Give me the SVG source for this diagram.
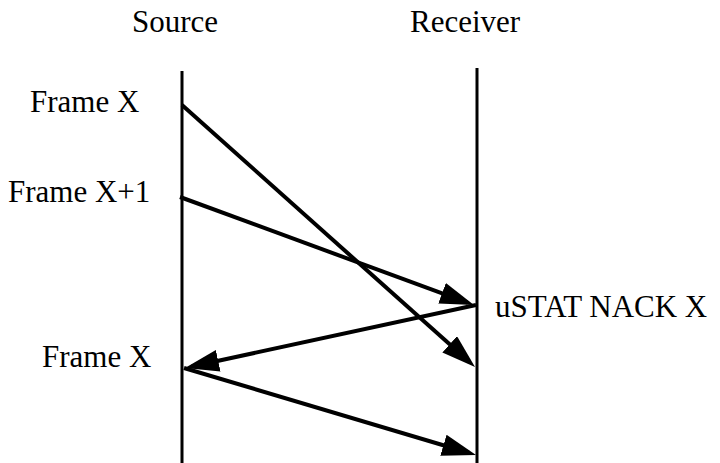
<svg xmlns="http://www.w3.org/2000/svg" width="720" height="463" viewBox="0 0 720 463">
<defs>
<style>
.life{stroke:#000;stroke-width:3}
.msg{stroke:#000;stroke-width:4;fill:none;marker-end:url(#ah)}
</style>
<marker id="ah" markerUnits="userSpaceOnUse" markerWidth="34" markerHeight="22" viewBox="0 0 34 22" refX="27" refY="11" orient="auto">
<path d="M0,0 L34,11 L0,22 z" fill="#000"/>
</marker>
</defs>
<g font-family="Liberation Serif, Times New Roman, DejaVu Serif, serif" font-size="31" fill="#000">
<g id="source">
<text x="132" y="32">Source</text>
<line class="life" x1="182" y1="71" x2="182" y2="463"/>
</g>
<g id="receiver">
<text x="410" y="32">Receiver</text>
<line class="life" x1="477" y1="68" x2="477" y2="463"/>
</g>
<g id="labels">
<text x="30" y="112">Frame X</text>
<text x="8" y="202">Frame X+1</text>
<text x="495" y="317">uSTAT NACK X</text>
<text x="42" y="367">Frame X</text>
</g>
</g>
<g id="connectors">
<line class="msg" x1="182" y1="105" x2="469.8" y2="362.3"/>
<line class="msg" x1="180" y1="197" x2="467.4" y2="302.6"/>
<line class="msg" x1="476" y1="305" x2="191.8" y2="366.5"/>
<line class="msg" x1="184" y1="368" x2="469.3" y2="453"/>
</g>
</svg>
